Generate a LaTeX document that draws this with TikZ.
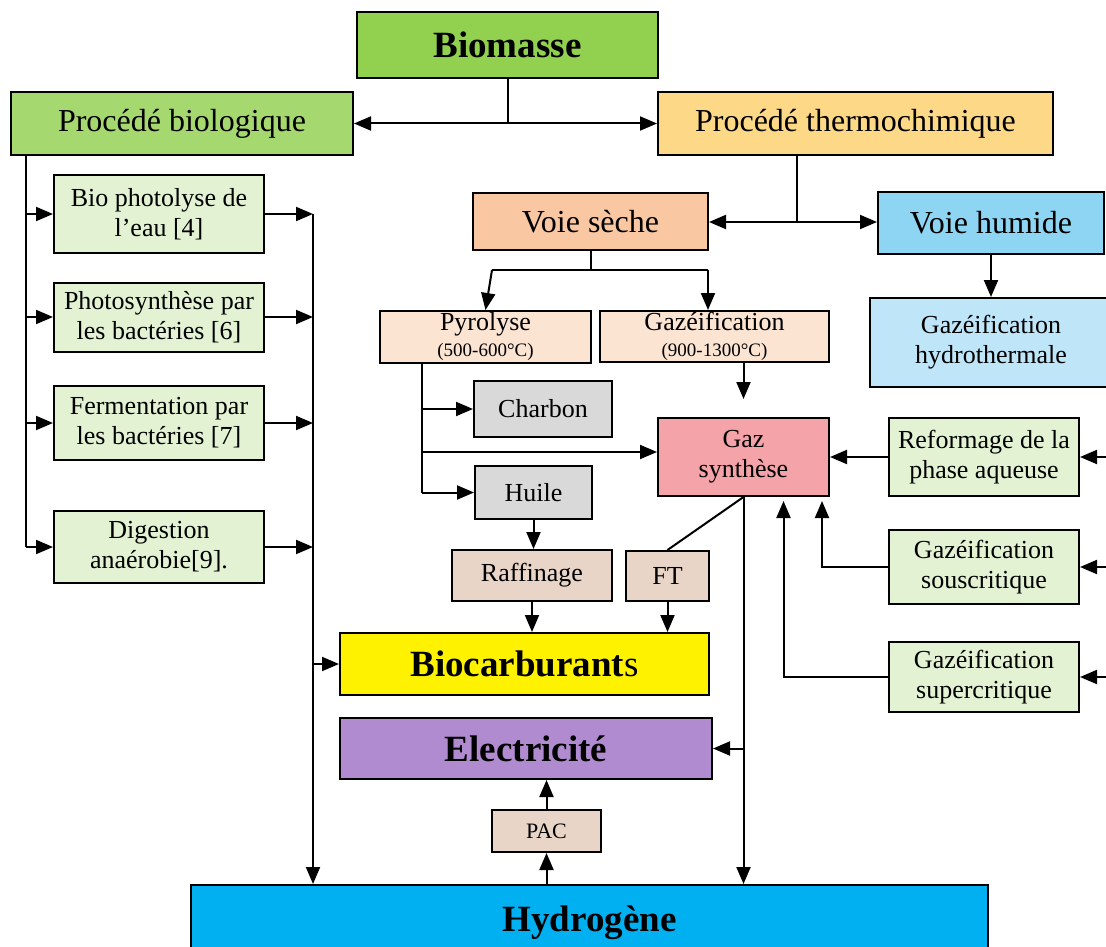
\documentclass[tikz,border=0pt]{standalone}
\usepackage{fontspec}
\setmainfont{Liberation Serif}
\usetikzlibrary{arrows.meta}
\definecolor{vert}{HTML}{92D050}
\definecolor{vertbio}{HTML}{A6D870}
\definecolor{thermo}{HTML}{FDD886}
\definecolor{seche}{HTML}{F9C8A2}
\definecolor{humide}{HTML}{8DD5F3}
\definecolor{hydro}{HTML}{BEE5F8}
\definecolor{pyro}{HTML}{FCE4D2}
\definecolor{gris}{HTML}{D9D9D9}
\definecolor{gaz}{HTML}{F4A3A8}
\definecolor{vertclair}{HTML}{E3F2D3}
\definecolor{beige}{HTML}{E8D5C8}
\definecolor{violet}{HTML}{B08BCF}
\definecolor{bleu}{HTML}{00B0F0}
\begin{document}
\begin{tikzpicture}[x=1pt,y=-1pt,>={Triangle[length=17pt,width=14pt]},line width=2pt,
box/.style={draw,line width=2pt,inner sep=0pt,align=center,font=\fontsize{26}{30}\selectfont},
gros/.style={box,font=\fontsize{32}{36}\selectfont},
titre/.style={box,font=\fontsize{37}{40}\selectfont\bfseries}]
\useasboundingbox (0,0) rectangle (1106,947);

\node[titre,fill=vert,minimum width=301pt,minimum height=66pt] (bm) at (507.5,45) {Biomasse};
\node[gros,fill=vertbio,minimum width=342pt,minimum height=63pt] (bio) at (182,123.5) {Procédé biologique};
\node[gros,fill=thermo,minimum width=395pt,minimum height=63pt] (thermo) at (855.5,123.5) {Procédé thermochimique};
\node[gros,fill=seche,minimum width=235pt,minimum height=57pt] (seche) at (590.5,221.5) {Voie sèche};
\node[gros,fill=humide,minimum width=226pt,minimum height=62pt] (humide) at (991,223) {Voie humide};
\node[box,fill=hydro,minimum width=242pt,minimum height=89pt] (hydro) at (991,342.5) {Gazéification\\hydrothermale};
\node[box,fill=pyro,minimum width=211pt,minimum height=52pt] (pyro) at (485.5,337) {Pyrolyse\\[-4pt]{\fontsize{19}{19}\selectfont(500-600°C)}};
\node[box,fill=pyro,minimum width=229pt,minimum height=51pt] (gazei) at (714.5,336.5) {Gazéification\\[-4pt]{\fontsize{19}{19}\selectfont(900-1300°C)}};
\node[box,fill=gris,minimum width=138pt,minimum height=56pt] (charbon) at (543,409) {Charbon};
\node[box,fill=gris,minimum width=117pt,minimum height=53pt] (huile) at (533.5,492.5) {Huile};
\node[box,fill=gaz,minimum width=171pt,minimum height=78pt] (gaz) at (743.5,457) {Gaz\\synthèse};
\node[box,fill=beige,minimum width=160pt,minimum height=51pt] (raff) at (532,575.5) {Raffinage};
\node[box,fill=beige,minimum width=83pt,minimum height=50pt] (ft) at (667.5,576) {FT};
\node[titre,fill=yellow,minimum width=369pt,minimum height=62pt] (bioc) at (524.5,664) {Biocarburant{\mdseries s}};
\node[titre,fill=violet,minimum width=372pt,minimum height=61pt] (elec) at (526,748.5) {Electricité};
\node[box,fill=beige,minimum width=109pt,minimum height=42pt,font=\fontsize{22}{24}\selectfont] (pac) at (546.5,831) {PAC};
\node[titre,fill=bleu,minimum width=797pt,minimum height=76pt] (h2) at (589.5,923) {Hydrogène};

\foreach \n/\y/\h/\t in {photo/214/78/{Bio photolyse de\\l’eau [4]},synth/317/69/{Photosynthèse par\\les bactéries [6]},ferm/423/74/{Fermentation par\\les bactéries [7]},dig/547/72/{Digestion\\anaérobie[9].}}
  \node[box,fill=vertclair,minimum width=210pt,minimum height=\h pt] (\n) at (159,\y) {\t};
\foreach \n/\y/\h/\t in {reform/457/78/{Reformage de la\\phase aqueuse},sous/567/74/{Gazéification\\souscritique},super/677/70/{Gazéification\\supercritique}}
  \node[box,fill=vertclair,minimum width=190pt,minimum height=\h pt] (\n) at (984,\y) {\t};

\coordinate (xl) at (26,0);
\coordinate (xr) at (313,0);
\coordinate (xp) at (422,0);
\coordinate (tj) at (797,222);
\coordinate (sj) at (590.5,270);
\coordinate (sl) at (492,270);
\coordinate (sr) at (708,270);

\draw (bm) -- (bm|-bio);
\draw[<->] (bio) -- (thermo);
\draw (thermo.south-|tj) -- (tj);
\draw[<->] (seche.east|-tj) -- (humide.west|-tj);
\draw[->] (humide) -- (hydro);
\draw (seche) -- (sj);
\draw (sl) -- (sr);
\draw[->] (sl) -- (pyro.north);
\draw[->] (sr) -- (sr|-gazei.north);
\draw[->,shorten >=18pt] (gaz.north|-gazei.south) -- (gaz.north);
\draw (pyro.south-|xp) -- (xp|-huile);
\draw[->] (xp|-charbon) -- (charbon);
\draw[->] (xp|-huile) -- (huile);
\draw[->] (xp|-0,452) -- (gaz.west|-0,452);
\draw[->] (huile.south) -- (huile.south|-raff.north);
\draw (gaz.south) -- (ft.north);
\draw[->] (raff) -- (raff|-bioc.north);
\draw[->] (ft) -- (ft|-bioc.north);
\draw[->] (gaz.south) -- (gaz.south|-h2.north);
\draw[->] (gaz.south|-elec) -- (elec);
\draw[->] (h2.north-|pac) -- (pac);
\draw[->] (pac) -- (pac|-elec.south);
\draw[->] (reform) -- (gaz);
\draw[->] (sous.west) -| ([xshift=-8pt,yshift=-4pt]gaz.south east);
\draw[->] (super.west) -| ([xshift=40pt,yshift=-4pt]gaz.south);
\foreach \n in {reform,sous,super}
  \draw[->] (\n.east) ++(30,0) -- (\n.east);

\draw (bio.south-|xl) -- (xl|-dig);
\foreach \n in {photo,synth,ferm,dig}
{
  \draw[->] (xl|-\n) -- (\n);
  \draw[->] (\n) -- (\n-|xr);
}
\draw[->] (xr|-photo) -- (xr|-h2.north);
\draw[->] (xr|-bioc) -- (bioc);
\end{tikzpicture}
\end{document}
